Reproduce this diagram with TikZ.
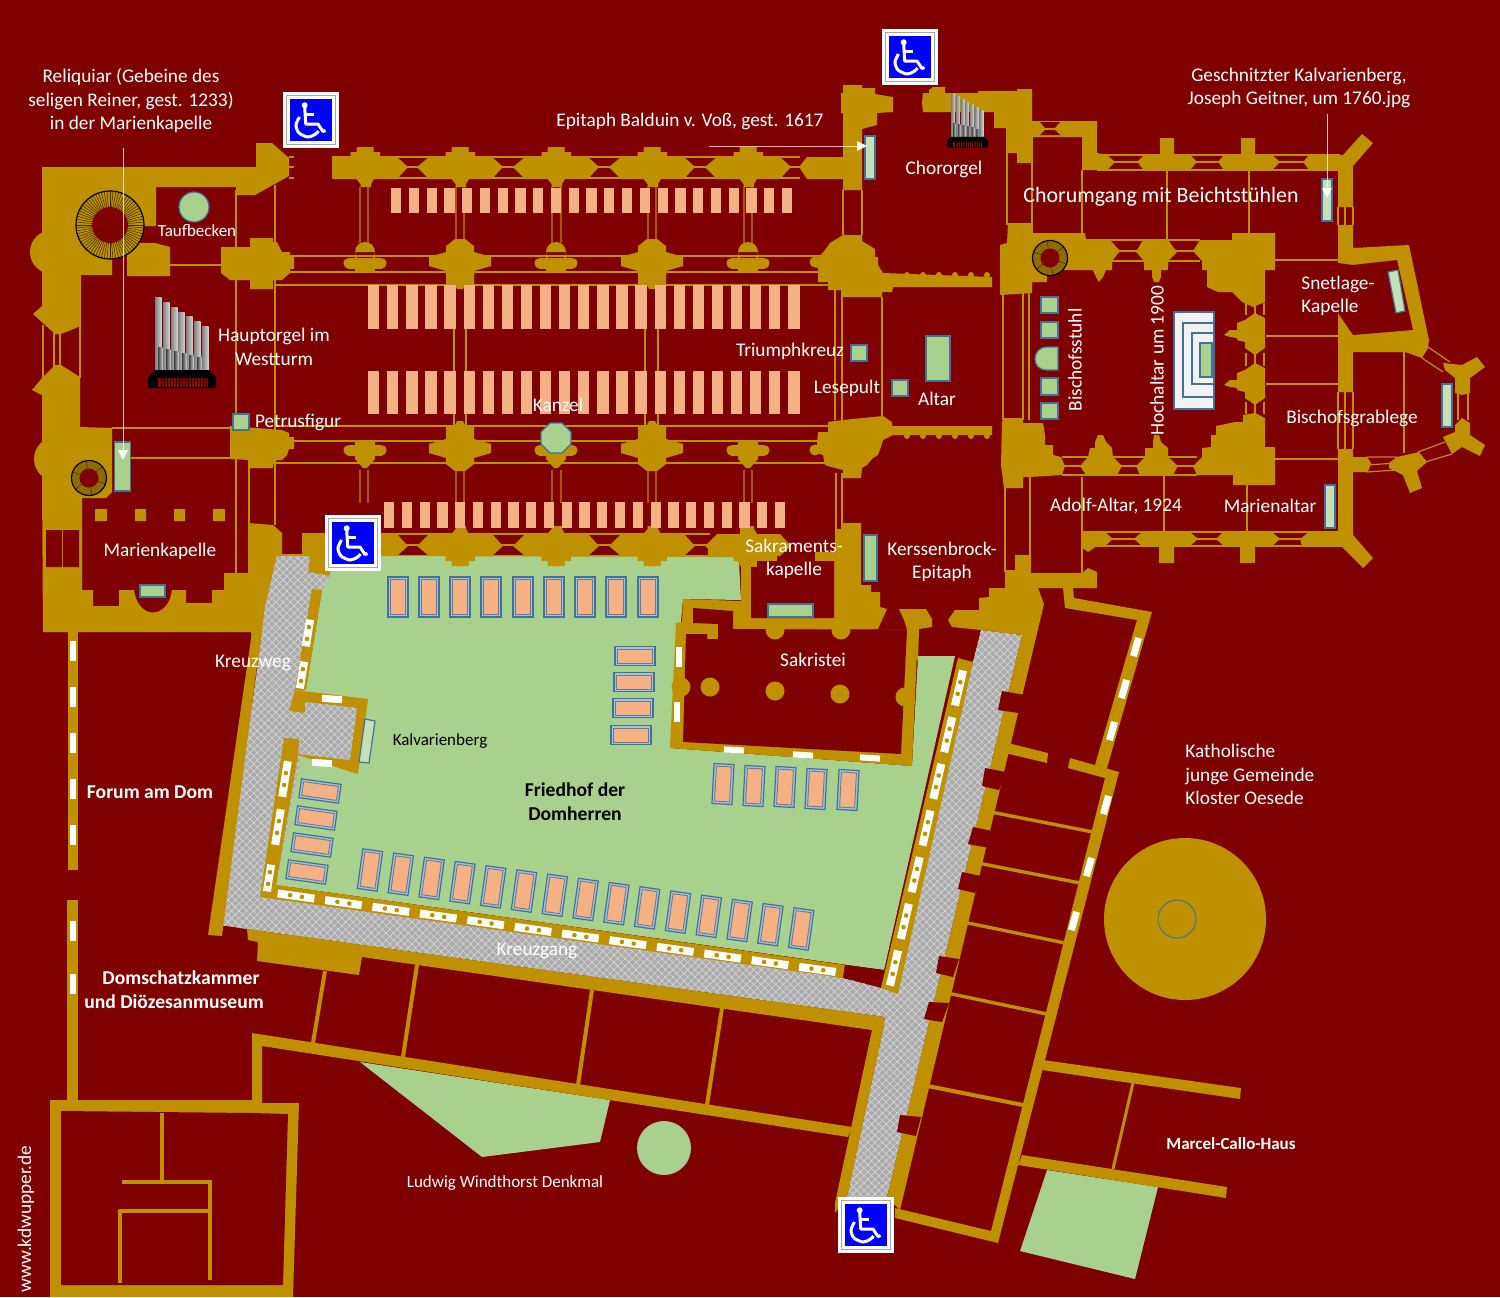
\documentclass[tikz,border=0pt]{standalone}
\usepackage{fontspec}
\setmainfont{Carlito}
\usetikzlibrary{patterns.meta,arrows.meta}
\definecolor{bgc}{HTML}{7F0000}
\definecolor{wallc}{HTML}{BF9000}
\definecolor{grn}{HTML}{A9D18E}
\definecolor{lgrn}{HTML}{C5E0B4}
\definecolor{peach}{HTML}{F4B183}
\definecolor{frm}{HTML}{41719C}
\definecolor{cobg}{HTML}{ABABAB}
\definecolor{brn}{HTML}{A85A00}
\tikzset{
 wall/.style={fill=wallc},
 hole/.style={fill=bgc},
 thinw/.style={draw=wallc,line width=.6pt},
 thinb/.style={draw=brn,line width=.6pt},
 band/.style={draw=wallc,line width=#1,line cap=butt},
 obj/.style={fill=grn,draw=frm,line width=.6pt},
 lobj/.style={fill=lgrn,draw=frm,line width=.6pt},
 cob/.style={fill=cobg,postaction={pattern={Lines[angle=45,distance=2.6pt,line width=.3pt]},pattern color=white!55!cobg},postaction={pattern={Lines[angle=-45,distance=2.6pt,line width=.3pt]},pattern color=white!55!cobg}},
 lbl/.style={text=white,align=center,inner sep=0pt,yshift=-.4pt,font=\fontsize{9.65}{11.75}\selectfont},
 blbl/.style={lbl,font=\fontsize{9.8}{11.75}\selectfont\bfseries},
 sml/.style={lbl,font=\fontsize{8.5}{10}\selectfont},
 pew/.style={fill=peach},
 ptr/.style={draw=white,draw opacity=.75,line width=.5pt,-{Triangle[length=5pt,width=5pt,fill=white]}},
}
\newcommand\npier[3]{\fill[wall,shift={(#1,#2)},yscale=#3] (-43,0)--(-31,-10)--(-14.5,-10)--(-14.5,-15)--(-8.5,-15)--(-8.5,-20)--(8.5,-20)--(8.5,-15)--(15,-15)--(15,-10)--(32,-10)--(43,0)--(32,12)--(9,12)--(6,17)--(6,20)--(-4.5,20)--(-4.5,17)--(-8.5,12)--(-31,12)--cycle;}
\newcommand\bigpier[3]{\fill[wall,shift={(#1,#2)},yscale=#3] (-5,-21)--(5,-21)--(14,-14)--(14,-8)--(31,-3)--(31,6)--(14,11)--(14,25)--(5,25)--(3,29)--(-3,29)--(-5,25)--(-14,25)--(-14,11)--(-31,6)--(-31,-3)--(-14,-8)--(-14,-14)--cycle;}
\newcommand\tpier[1]{\draw[band=5.5pt,line cap=round] (#1-16,263)--(#1+16,263);\fill[wall] (#1-10,252) rectangle (#1+10,272) (#1,252) circle (10);}
\newcommand\bpier[1]{\draw[band=5.5pt,line cap=round] (#1-16,450)--(#1+16,450);\fill[wall] (#1-10,440)--(#1+10,440)--(#1+10,459)--(#1+2,468)--(#1-2,468)--(#1-10,459)--cycle;}
\newcommand\pews[5]{\foreach \k in {0,...,22}{\fill[pew] ({#1+\k*#2},#4) rectangle ({#1+\k*#2+#3},#5);}}
\newcommand\slit[4]{\begin{scope}[shift={(#1,#2)},rotate=#4]\fill[white] (-4,-#3/2) rectangle (4,#3/2);\fill[wallc] (0,-6) circle (2.3) (0,6) circle (2.3);\end{scope}}
\newcommand\wslit[5]{\begin{scope}[shift={(#1,#2)},rotate=#5]\fill[white] (-#3/2,-#4/2) rectangle (#3/2,#4/2);\end{scope}}
\newcommand\coffin[5]{\begin{scope}[shift={(#1,#2)},rotate=#5]\fill[fill=white!55!frm,draw=frm,line width=.6pt] (-#3/2,-#4/2) rectangle (#3/2,#4/2);\fill[fill=peach,draw=frm!80!peach,line width=.45pt] (-#3/2+2.5,-#4/2+2.5) rectangle (#3/2-2.5,#4/2-2.5);\end{scope}}
\newcommand\stair[6]{\fill[fill=#5] (#1,#2) circle (#3);
 \foreach \a in {#6}{\draw[black!70!wallc,line width=.25pt] (#1,#2) ++(\a:#4) -- ++(\a:#3-#4);}
 \draw[black,line width=.6pt] (#1,#2) circle (#3);\fill[bgc] (#1,#2) circle (#4);}
\newcommand\wheel[2]{\begin{scope}[shift={(#1,#2)}]
 \fill[white] (0,0) rectangle (56,56);
 \draw[gray!70,line width=.8pt] (3.5,3.5) rectangle (52.5,52.5);
 \fill[blue] (6.7,6.7) rectangle (49.3,49.3);
 \fill[white] (21.7,13.3) circle (3);
 \draw[white,line width=1.5pt,line join=round] (21.7,15)--(22.7,32)--(35,32)--(40,39.5)--(42.5,38.5);
 \draw[white,line width=1.5pt] (22.3,22)--(31,22);
 \draw[white,line width=1.5pt] plot[smooth] coordinates {(16.5,25) (13,33) (16,41) (25,45) (32,42.5) (35.5,39)};
\end{scope}}
\newcommand\organ[3]{\begin{scope}[shift={(#1,#2)},scale=#3]
 \shade[left color=gray!40!black,right color=gray!55,shading angle=0] (7,55) rectangle (61,73);
 \foreach \x/\t in {7/0,15/5,23/10,30/15,38/19,46/24,54/29}{\shade[left color=gray,right color=gray!35] (\x,\t) rectangle (\x+6.5,72);}
 \foreach \x/\t in {10/50,18/52,26/54,34/56,41/58,49/60}{\shade[left color=gray!50!black,right color=gray!45] (\x,\t) rectangle (\x+4.5,72);}
 \fill[black] (0,80)--(7,73)--(61,73)--(68,80)--(68,91)--(0,91)--cycle;
 \fill[red!60!black] (10,81) rectangle (60,90);
 \foreach \x in {13,16,...,58}{\draw[black,line width=.25pt] (\x,81)--(\x,90);}
\end{scope}}
\begin{document}
\begin{tikzpicture}[x=.5pt,y=-.5pt]
\useasboundingbox (0,0) rectangle (1500,1297);
\fill[bgc] (0,0) rectangle (1500,1297);

% ---- thin structural lines
\foreach \y in {256,272,285,426,441,463}{\draw[thinw] (275,\y)--(835,\y);}
\draw[thinw] (236,190)--(236,573) (275,185)--(275,525) (170,265)--(225,265) (112,428)--(232,428) (130,458)--(232,458) (249,460)--(249,573);
\foreach \x in {360,368,456,464,552,561,648,656,744,752}{\draw[thinb] (\x,187)--(\x,243) (\x,470)--(\x,503);}
\foreach \x in {454,466,645,658}{\draw[thinw] (\x,329)--(\x,371) (\x,285)--(\x,290) (\x,414)--(\x,425);}
\draw[thinw] (835,290)--(835,420) (842,290)--(842,420) (882,297)--(882,420);
\draw[thinw] (836,473)--(836,529) (842,473)--(842,529) (843,190)--(843,235) (862,190)--(862,235);
\draw[thinw] (332,157)--(800,157) (332,167)--(800,167) (332,178)--(800,178);
\draw[thinw] (380,534)--(710,534) (380,545)--(710,545) (380,556)--(710,556);
\draw[thinw] (289,157)--(294,157) (289,167)--(294,167) (289,178)--(294,178);
\foreach \x in {43,54,60,80}{\draw[thinw] (\x,325)--(\x,378);}
\draw[thinw] (1097,155)--(1340,155) (1097,162)--(1340,162) (1097,170)--(1340,170);
\draw[thinw] (1081,532)--(1340,532) (1081,539)--(1340,539) (1081,546)--(1340,546);
\draw[thinw] (1086,240)--(1200,240) (1086,251)--(1200,251) (1086,261)--(1200,261);
\draw[thinw] (1062,457)--(1197,457) (1062,466)--(1197,466) (1062,475)--(1197,475);
\draw[thinw] (1082,170)--(1082,235) (1167,170)--(1167,240) (1249,170)--(1249,235);
\draw[thinw] (1082,477)--(1082,573) (1164,475)--(1164,532) (1247,485)--(1247,532) (1030,477)--(1030,556);
\draw[thinw] (1275,260)--(1338,260) (1266,336)--(1338,336) (1266,384)--(1338,384) (1275,459)--(1338,459);
\draw[thinw] (1032,137)--(1032,233) (1007,128)--(1007,225) (1005,488)--(1005,572);
\foreach \x in {1003,1023,1029}{\draw[thinw] (\x,293)--(\x,420);}
\draw[thinw] (1404,352)--(1404,453);
\foreach \x in {1338,1345,1353}{\draw[thinw] (\x,207)--(\x,225) (\x,392)--(\x,449);}
\draw[thinw] (1246,303)--(1246,315) (1255,303)--(1255,315) (1264,303)--(1264,315) (1246,353)--(1246,366) (1255,353)--(1255,366) (1264,353)--(1264,366) (1246,402)--(1246,414) (1255,402)--(1255,414) (1264,402)--(1264,414);
\draw[thinw] (1428,347)--(1450,362) (1422,358)--(1443,372) (1418,452)--(1445,442) (1425,462)--(1452,454);
\draw[thinw] (1367,457)--(1397,457) (1367,465)--(1397,463) (1367,472)--(1397,470);
\draw[thinw] (1458,393)--(1458,420) (1468,393)--(1468,420);

% ---- garden
\fill[grn] (325,572)--(382,556)--(733,557)--(739,562)--(741,600)--(683,599)--(670,748)--(912,766)--(918,656)--(955,656)--(884,970)--(276,885)--(306,690)--(322,590)--cycle;
\fill[grn] (360,1062)--(610,1100)--(600,1142)--(482,1157)--cycle;
\fill[grn] (664,1148) circle (27);
\fill[grn] (1047,1170)--(1158,1187)--(1135,1279)--(1020,1251)--cycle;

% ---- west end
\fill[wall] (42,167)--(256,167)--(256,143)--(272,143)--(289,158)--(289,176)--(255,195)--(236,195)--(236,187)--(156,187)--(156,226)--(112,226)--(112,275)--(81,275)--(81,326)--(61,334)--(55,334)--(33,314)--(42,306)--cycle;
\fill[wall] (52,252) circle (22);
\fill[wall] (127,276)--(170,276)--(170,247)--(155,243)--(140,243)--(127,250)--cycle;
\fill[wall] (55,365)--(61,365)--(80,377)--(80,427)--(112,428)--(112,492)--(106,498)--(82,498)--(82,590)--(93,590)--(93,606)--(119,606)--(119,590)--(134,590).. controls (138,620) and (168,620) ..(172,590)--(186,590)--(186,603)--(212,603)--(212,590)--(224,590)--(224,573)--(248,573)--(248,523)--(273,525)--(282,533)--(282,554)--(302,554)--(302,533)--(330,533)--(330,575)--(300,600)--(265,700)--(251,632)--(43,632)--(42,482)--(42,395)--(32,390)--(42,378)--cycle;
\fill[wall] (56,459) circle (22);
\fill[hole] (46,530) rectangle (62,567) (63,530) rectangle (79,567);
\fill[wall] (95,509) rectangle (107,521) (135,509) rectangle (146,521) (174,509) rectangle (185,521) (213,509) rectangle (225,521);
\fill[wall] (221,247)--(250,247)--(250,238)--(273,238)--(273,242)--(277,242)--(282,252)--(290,252)--(290,257)--(294,257)--(294,269)--(290,269)--(290,273)--(282,280)--(273,280)--(273,289)--(250,289)--(250,280)--(230,280)--(221,273)--cycle;
\fill[wall] (230,426)--(282,430)--(289,433)--(289,437)--(294,437)--(294,449)--(289,449)--(287,455)--(282,460)--(277,460)--(273,465)--(273,468)--(250,468)--(249,460)--(230,459)--cycle;

% ---- nave piers
\foreach \c in {365,460,556,652,748}{\npier{\c}{167}{1}}
\fill[hole] (318,150) rectangle (332,185);
\fill[wall] (332,157) rectangle (345,178);
\foreach \c in {365,460,556,652,748}{\npier{\c}{546}{-1}}
\fill[wall] (332,536) rectangle (345,556);
\bigpier{460}{260}{1}\bigpier{652}{260}{1}
\bigpier{460}{450}{-1}\bigpier{652}{450}{-1}
\tpier{365}\tpier{556}\tpier{748}
\bpier{365}\bpier{556}\bpier{748}
\fill[wall] (815,262) circle (5.5) (815,450) circle (5.5);

% ---- pews
\pews{391}{17.77}{10.2}{188}{213}
\pews{368}{19.1}{11.3}{285}{329}
\pews{368}{19.1}{11.3}{371}{414}
\pews{384}{17.77}{10.2}{502}{528}

% ---- transepts
\fill[wall] (843,85)--(862,85)--(862,88)--(875,88)--(875,94)--(893,97)--(893,112)--(877,113)--(877,125)--(862,129)--(862,190)--(843,190)--(843,179)--(807,179)--(799,167)--(807,157)--(843,157)--(843,113)--(841,113)--(841,93)--(843,93)--cycle;
\fill[wall] (843,235)--(862,235)--(862,241)--(875,249)--(875,257)--(878,257)--(878,265)--(883,273)--(992,277)--(992,287)--(893,287)--(892,292)--(882,292)--(882,297)--(843,297)--(843,290)--(828,290)--(828,282)--(818,282)--(818,268)--(812,266)--(812,258)--(818,258)--(825,250)--(830,243)--cycle;
\foreach \x in {907,923,939,955,971,987}{\fill[wall] (\x,275) circle (3) (\x,436) circle (3);}
\fill[wall] (828,422)--(843,420)--(883,416)--(892,422)--(892,426)--(992,426)--(992,435)--(893,435)--(883,440)--(881,447)--(878,455)--(873,458)--(867,465)--(862,468)--(861,478)--(843,478)--(843,470)--(835,468)--(825,465)--(823,455)--(817,453)--(817,445)--(818,432)--(828,432)--cycle;
% south transept + Sakramentskapelle
\fill[wall] (708,546)--(722,535)--(740,535)--(740,528)--(750,528)--(750,535)--(777,535)--(777,561)--(815,561)--(815,552)--(835,552)--(835,529)--(842,529)--(842,523)--(861,523)--(861,585)--(871,585)--(871,592)--(880,592)--(880,607)--(887,609)--(878,629)--(733,629)--(733,611)--(741,601)--(741,565)--(733,557)--(708,557)--cycle;
\fill[hole] (751,567)--(757,567)--(757,561)--(834,561)--(834,618)--(751,618)--cycle;
% Sakristei
\fill[wall] (683,599)--(741,601)--(741,629)--(918,630)--(912,766)--(670,748)--(676,623)--(682,622)--cycle;
\fill[hole] (693,608)--(733,611)--(733,629)--(907,630)--(901,754)--(683,742)--(686,634)--(707,634)--(707,639)--(718,639)--(718,624)--(693,623)--cycle;
\fill[wall] (775,630) circle (9.5) (841,630) circle (9.5) (710,687) circle (9.5) (775,691) circle (9.5) (840,694) circle (9.5) (681,687) circle (9.5) (905,697) circle (9.5);
\wslit{679}{657}{6}{20}{0}
\wslit{677}{712}{6}{20}{0}
\wslit{734}{750}{20}{6}{-3.5}
\wslit{803}{755}{20}{6}{-3.5}
\wslit{870}{758}{20}{6}{-3.5}
\fill[wall] (899,609)--(926,609)--(932,619)--(932,627)--(919,629)--(918,660)--(907,660)--(907,630)--(904,620)--cycle;

% ---- choir
\fill[wall] (922,102)--(923,93)--(929,93)--(929,90)--(933,87)--(945,87)--(945,93)--(978,93)--(978,91)--(1017,91)--(1017,89)--(1032,89)--(1032,121)--(1097,121)--(1097,153)--(1107,155)--(1115,162)--(1107,170)--(1082,170)--(1082,137)--(1032,137)--(1032,163)--(1017,163)--(1017,153)--(1008,153)--(1007,128)--(994,128)--(994,112)--(923,112)--cycle;
\fill[hole] (1040,122)--(1060,122)--(1054,129)--(1060,135)--(1040,135)--(1046,129)--cycle;
\draw[thinw] (1040,129)--(1060,129);
\fill[wall] (1000,245)--(1007,243)--(1008,223)--(1031,223)--(1031,233)--(1085,233)--(1086,240)--(1110,240)--(1120,251)--(1112,261)--(1112,270)--(1106,270)--(1103,277)--(1099,282)--(1096,277)--(1093,270)--(1047,270)--(1047,282)--(1032,282)--(1032,293)--(1000,295)--cycle;
\fill[wall] (1136,252)--(1143,240)--(1168,240)--(1177,252)--(1168,261)--(1168,270)--(1161,270)--(1161,277)--(1159,282)--(1154,282)--(1152,277)--(1152,270)--(1144,270)--(1144,261)--cycle;
\fill[wall] (1193,251)--(1200,240)--(1232,240)--(1232,233)--(1275,233)--(1275,270)--(1265,270)--(1265,302)--(1253,307)--(1242,302)--(1232,292)--(1218,292)--(1207,287)--(1207,270)--(1202,270)--(1202,261)--cycle;
\foreach \d in {0,50}{\fill[wall,yshift={\d*-.5pt}] (1255,313)--(1265,318)--(1265,348)--(1255,355)--(1245,348)--(1245,342)--(1237,340)--(1237,338)--(1230,337)--(1224,335)--(1230,330)--(1237,330)--(1237,323)--(1245,320)--cycle;}
\fill[wall] (1255,413)--(1265,418)--(1265,447)--(1275,447)--(1275,485)--(1233,485)--(1233,475)--(1197,475)--(1193,466)--(1202,457)--(1202,448)--(1211,447)--(1211,435)--(1216,435)--(1216,426)--(1235,422)--(1243,422)--(1243,415)--cycle;
\fill[wall] (1080,466)--(1088,457)--(1090,448)--(1095,448)--(1095,442)--(1098,435)--(1103,435)--(1106,442)--(1112,448)--(1113,457)--(1122,466)--(1117,475)--(1086,475)--cycle;
\fill[wall] (1136,466)--(1145,457)--(1145,448)--(1153,448)--(1153,442)--(1154,435)--(1159,435)--(1161,442)--(1168,448)--(1168,457)--(1178,466)--(1173,475)--(1140,475)--cycle;
\fill[wall] (1002,423)--(1003,418)--(1023,418)--(1023,423)--(1043,423)--(1045,435)--(1045,445)--(1053,445)--(1053,455)--(1061,457)--(1065,466)--(1062,475)--(1030,477)--(1023,477)--(1023,488)--(1004,488)--(1001,465)--cycle;
% outer choir north
\fill[wall] (1137,162)--(1144,155)--(1160,155)--(1160,138)--(1174,138)--(1174,155)--(1190,155)--(1197,162)--(1190,170)--(1144,170)--cycle;
\fill[wall] (1218,162)--(1224,155)--(1241,155)--(1241,138)--(1255,138)--(1255,155)--(1272,155)--(1280,162)--(1272,170)--(1224,170)--cycle;
\fill[wall] (1303,162)--(1309,155)--(1343,155)--(1362,134)--(1373,143)--(1353,166)--(1353,207)--(1338,207)--(1338,170)--(1309,170)--cycle;
\fill[wall] (1338,225)--(1353,225)--(1353,248)--(1409,245)--(1429,340)--(1428,348)--(1422,358)--(1405,352)--(1353,352)--(1353,392)--(1338,392)--(1338,313)--cycle;
\fill[wall] (1338,225)--(1338,265)--(1353,265)--(1353,225)--cycle;
\fill[hole] (1338,263)--(1353,265)--(1397,260)--(1413,330)--(1353,335)--(1338,313)--cycle;
% outer choir south
\fill[wall] (1338,449)--(1353,449)--(1353,457)--(1367,457)--(1371,463)--(1368,472)--(1353,472)--(1353,535)--(1373,558)--(1363,568)--(1342,547)--(1302,546)--(1300,539)--(1309,532)--(1338,532)--cycle;
\fill[wall] (1216,539)--(1223,532)--(1272,532)--(1280,539)--(1272,546)--(1255,546)--(1255,563)--(1240,563)--(1240,546)--(1224,546)--cycle;
\fill[wall] (1134,539)--(1142,532)--(1190,532)--(1198,539)--(1190,546)--(1174,546)--(1174,563)--(1159,563)--(1159,546)--(1142,546)--cycle;
\fill[wall] (1081,532)--(1105,532)--(1113,539)--(1105,546)--(1097,546)--(1088,552)--(1081,547)--cycle;
\fill[wall] (1015,555)--(1031,555)--(1031,573)--(1082,573)--(1088,568)--(1097,572)--(1097,588)--(1005,588)--(1005,570)--(1015,570)--cycle;
% apse
\fill[wall] (1389,463)--(1397,457)--(1419,452)--(1427,462)--(1417,471)--(1422,488)--(1410,493)--(1403,475)--(1389,468)--cycle;
\fill[wall] (1462,418)--(1470,423)--(1470,435)--(1485,445)--(1480,456)--(1462,447)--(1452,454)--(1443,437)--(1455,432)--(1455,425)--cycle;
\fill[wall] (1443,363)--(1462,365)--(1477,357)--(1485,367)--(1470,378)--(1470,393)--(1462,395)--(1455,393)--(1455,378)--(1445,370)--cycle;

% ---- cloister paving
\path[cob] (277,556)--(310,556)--(308,572)--(330,576)--(322,590)--(306,690)--(300,760)--(276,885)--(843,978)--(881,988)--(973,662)--(981,630)--(1022,635)--(887,1197)--(847,1197)--(883,1030)--(885,1017)--(247,929)--(220,925)--(260,650)--(265,607)--cycle;
% crossing east wall block
\fill[wall] (948,620)--(955,610)--(979,610)--(979,598)--(989,597)--(989,588)--(1038,588)--(1044,604)--(900,1210)--(887,1197)--(1022,635)--(981,630)--(952,627)--cycle;
\foreach \a/\b/\c/\d/\e/\f/\g/\h in {1002/691/1025/695/1019/713/998/710, 985/768/1006/772/999/790/982/786, 973/827/992/831/989/848/968/844, 962/872/981/876/975/893/958/889, 939/956/959/959/953/977/936/973, 929/1002/949/1003/942/1022/924/1019, 900/1115/921/1117/916/1136/897/1132}{\fill[hole] (\a,\b)--(\c,\d)--(\e,\f)--(\g,\h)--cycle;}

% ---- arcades
\fill[wall] (312,589)--(322,590)--(306,690)--(295,690)--cycle;
\fill[wall] (289,711)--(295,690)--(368,699)--(358,774)--(298,755)--(299,739)--(284,738)--cycle;
\path[cob] (289,711)--(305,713)--(305,702)--(357,708)--(350,760)--(298,754)--(299,739)--(284,738)--cycle;
\fill[wall] (284,738)--(299,739)--(298,755)--(276,885)--(260,897)--cycle;
\fill[wall] (276,885)--(845,965)--(843,978)--(260,897)--cycle;
\fill[wall] (958,658)--(973,662)--(898,994)--(881,988)--cycle;
\fill[hole] (845,965)--(884,970)--(881,986)--(843,978)--cycle;
\wslit{332}{699}{20}{7}{-4}
\wslit{322}{763}{20}{7}{-4}
\foreach \x/\y/\l in {308/633/27,302/675/27,285/779/36,278/827/36,269/878/27}{\slit{\x}{\y}{\l}{-9}}
\foreach \k in {0,...,11}{\slit{296+47.4*\k}{896+6.67*\k}{37}{82}}
\foreach \k in {0,...,6}{\slit{959-10.83*\k}{688+46.67*\k}{36}{-13}}

% ---- cloister outer walls
\fill[wall] (252,632)--(263,620)--(222,936)--(208,935)--cycle;
\fill[wall] (247,929)--(885,1017)--(883,1030)--(847,1197)--(835,1213)--(835,1203)--(872,1030)--(362,957)--(359,975)--(257,961)--(258,942)--(248,940)--cycle;
\draw[band=2pt] (325,971)--(313,1043) (417,965)--(403,1057) (592,990)--(578,1085) (722,1008)--(707,1105);
\fill[wall] (252,1033)--(852,1127)--(848,1137)--(262,1046)--(262,1103)--(252,1103)--cycle;

% ---- Domschatz building
\fill[wall] (68,632) rectangle (78,870);
\fill[wall] (67,900) rectangle (78,1100);
\foreach \y in {651,697,743,789,835,931,984}{\fill[white] (70,\y-10) rectangle (76,\y+10);}
\fill[wall] (50,1100)--(252,1100)--(252,1103)--(299,1103)--(293,1297)--(50,1297)--cycle;
\fill[hole] (61,1111)--(252,1113)--(288,1114)--(283,1285)--(61,1285)--cycle;
\draw[band=1.6pt] (162,1113)--(162,1182) (122,1182)--(212,1182) (210,1181)--(210,1280) (119,1211)--(210,1211) (120,1210)--(120,1283);

% ---- east wing
\fill[wall] (1063,588)--(1073,588)--(1074,598)--(1152,612)--(1105,775)--(1093,772)--(1137,620)--(1065,608)--cycle;
\fill[wall] (1070,758)--(1119,772)--(998,1243)--(895,1218)--(895,1208)--(991,1231)--(1105,778)--(1068,768)--cycle;
\fill[wall] (1005,753)--(1008,743)--(1048,753)--(1047,763)--cycle;
\draw[band=1.7pt] (991,812)--(1093,832) (978,863)--(1080,883) (963,922)--(1065,943) (947,993)--(1047,1014);
\draw[band=2pt] (923,1085)--(1023,1105);
\fill[wall] (1043,1060)--(1241,1088)--(1240,1099)--(1042,1070)--cycle;
\fill[wall] (1022,1155)--(1227,1187)--(1226,1198)--(1018,1165)--cycle;
\draw[band=1.5pt] (1133,1083)--(1113,1169);
\foreach \x/\y in {1136/647,1124/689,1112/731,1106/805,1089/867,1074/921}{\wslit{\x}{\y}{7}{19}{-15.5}}
\fill[wall] (1185,919) circle (81);
\draw[frm,line width=.5pt] (1177,919) circle (19);

% ---- stairs
\stair{110}{225}{34}{18}{wallc}{0,5,...,355}
\stair{89}{478}{17.5}{9.5}{wallc!75!black}{20,80,...,320}
\stair{1050}{258}{17.5}{9.5}{wallc!75!black}{20,80,...,320}

% ---- objects
\fill[obj] (194,207) circle (15);
\fill[obj] (114.5,442) rectangle (130.5,491);
\fill[obj] (233,414) rectangle (249,430);
\fill[obj] (140,585) rectangle (165,597);
\fill[lobj] (865,136) rectangle (875,179);
\fill[obj] (851,345) rectangle (867,361);
\fill[obj] (892,380) rectangle (908,396);
\fill[obj] (926,336) rectangle (950,381);
\fill[obj] (864,535) rectangle (877,581);
\fill[obj] (768,604) rectangle (813,617);
\fill[obj] (550,423)--(562,423)--(571,432)--(571,444)--(562,453)--(550,453)--(541,444)--(541,432)--cycle;
\fill[lobj] (1322,179) rectangle (1332,221);
\fill[lobj] (1388,272)--(1398,270)--(1405,311)--(1396,313)--cycle;
\fill[lobj] (1442,384) rectangle (1452,427);
\fill[lobj] (1325,485) rectangle (1335,528);
\fill[lobj] (365,719)--(375,721)--(369,763)--(359,762)--cycle;
\fill[obj] (1041,297) rectangle (1058,313);
\fill[obj] (1041,322) rectangle (1058,338);
\fill[obj] (1058,347)--(1047,347).. controls (1038,347) and (1035,354) ..(1035,359).. controls (1035,364) and (1038,370) ..(1047,370)--(1058,370)--cycle;
\fill[obj] (1041,378) rectangle (1058,395);
\fill[obj] (1041,403) rectangle (1058,419);
% Hochaltar
\fill[fill=white!95!black,draw=frm,line width=.6pt] (1174,312) rectangle (1214,409);
\draw[frm,line width=.6pt] (1183,323) rectangle (1214,397) (1192,333) rectangle (1214,384);
\fill[obj] (1200,343) rectangle (1212,377);
% coffins
\foreach \x in {398,429,460,491,523,554,585,616,648}{\coffin{\x}{597}{20}{40}{0}}
\foreach \x/\y in {635/656,634/682,633/708,631/735}{\coffin{\x}{\y}{40}{19}{0}}
\foreach \x/\y in {723/784,754/786,785/787,816/789,848/790}{\coffin{\x}{\y}{20}{40}{-3}}
\foreach \x/\y in {320/791,316/818,312/845,307/872}{\coffin{\x}{\y}{40}{19}{-8}}
\foreach \k in {0,...,14}{\coffin{370+30.8*\k}{870+4.21*\k}{20}{40}{-8}}
% organs
\organ{148}{297}{1}
\organ{947}{93}{.6}
% wheelchair signs
\wheel{283}{92}
\wheel{325}{515}
\wheel{882}{29}
\wheel{838}{1197}

% ---- pointers
\coordinate (rel0) at (123,148); \coordinate (rel1) at (123,460);
\draw[ptr] (rel0)--(rel1);
\coordinate (epi0) at (709,146); \coordinate (epi1) at (867,146);
\draw[ptr] (epi0)--(epi1);
\coordinate (kal0) at (1327,114); \coordinate (kal1) at (1327,198);
\draw[ptr] (kal0)--(kal1);

% ---- labels
\node[lbl] (t1) at (131,100) {Reliquiar (Gebeine des\\seligen Reiner, gest. 1233)\\in der Marienkapelle};
\node[lbl,font=\fontsize{8.5}{10}\selectfont] (t2) at (197,230) {Taufbecken};
\node[lbl] (t3) at (274,346) {Hauptorgel im\\Westturm};
\node[lbl] (t4) at (298,422) {Petrusfigur};
\node[lbl] (t5) at (160,551) {Marienkapelle};
\node[lbl] (t6) at (558,404) {Kanzel};
\node[lbl] (t7) at (690,121) {Epitaph Balduin v. Voß, gest. 1617};
\node[lbl] (t8) at (944,169) {Chororgel};
\node[lbl] (t9) at (1299,87) {Geschnitzter Kalvarienberg,\\Joseph Geitner, um 1760.jpg};
\node[lbl,font=\fontsize{10.95}{13}\selectfont] (t10) at (1161,196) {Chorumgang mit Beichtstühlen};
\node[lbl,align=left,anchor=west] (t11) at (1301,295) {Snetlage-\\Kapelle};
\node[lbl] (t12) at (790,351) {Triumphkreuz};
\node[lbl] (t13) at (847,388) {Lesepult};
\node[lbl] (t14) at (937,398) {Altar};
\node[lbl,rotate=90] (t15) at (1075,359) {Bischofsstuhl};
\node[lbl,rotate=90] (t16) at (1157,360) {Hochaltar um 1900};
\node[lbl] (t17) at (1352,418) {Bischofsgrablege};
\node[lbl] (t18) at (1116,505) {Adolf-Altar, 1924};
\node[lbl] (t19) at (1270,505) {Marienaltar};
\node[lbl] (t20) at (794,558) {Sakraments-\\kapelle};
\node[lbl] (t21) at (942,561) {Kerssenbrock-\\Epitaph};
\node[lbl] (t22) at (813,659) {Sakristei};
\node[lbl] (t23) at (253,662) {Kreuzweg};
\node[sml,text=black] (t24) at (440,740) {Kalvarienberg};
\node[blbl,text=black] (t25) at (575,801) {Friedhof der\\Domherren};
\node[blbl] (t26) at (150,791) {Forum am Dom};
\node[blbl] (t27) at (174,989) {\hspace*{7pt}Domschatzkammer\\und Diözesanmuseum};
\node[lbl] (t28) at (537,950) {Kreuzgang};
\node[lbl,align=left,anchor=west] (t29) at (1185,774) {Katholische\\junge Gemeinde\\Kloster Oesede};
\node[sml,font=\fontsize{8.5}{10}\selectfont\bfseries] (t30) at (1231,1143) {Marcel-Callo-Haus};
\node[sml] (t31) at (505,1182) {Ludwig Windthorst Denkmal};
\node[lbl,rotate=90] (t32) at (26,1218) {www.kdwupper.de};
\end{tikzpicture}
\end{document}
